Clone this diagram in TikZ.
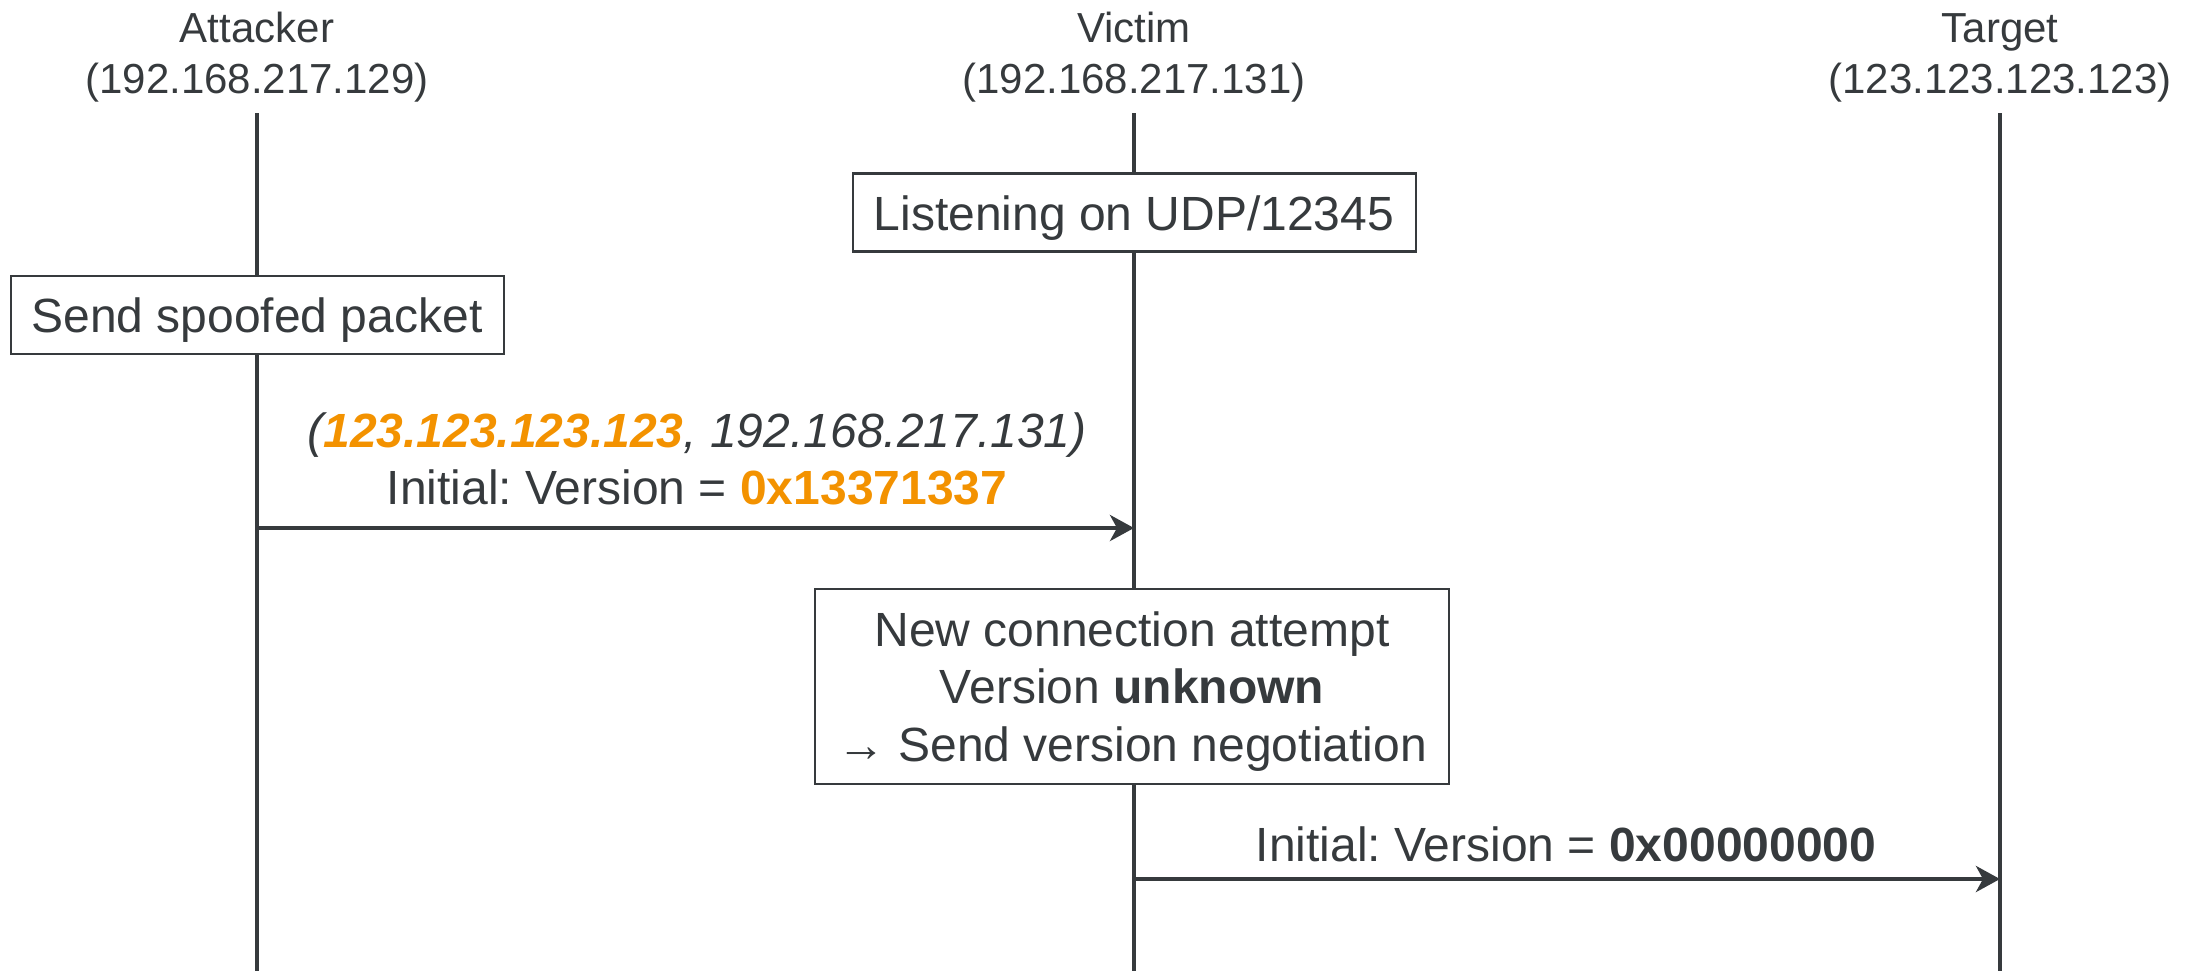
\documentclass[tikz,border=0pt]{standalone}
\usepackage{fontspec}
\setmainfont{Liberation Sans}
\usetikzlibrary{arrows.meta}
\definecolor{ink}{HTML}{363A3D}
\definecolor{hot}{HTML}{F39200}
\frenchspacing
\begin{document}
\begin{tikzpicture}[x=0.5pt,y=-0.5pt,
  every node/.style={inner sep=0pt, outer sep=0pt, text=ink},
  lifeline/.style={draw=ink, line width=2pt},
  msg/.style={draw=ink, line width=2.1pt,
    -{Stealth[length=12pt, width=13pt, inset=3.5pt]}},
  actionbox/.style={draw=ink, line width=1.35pt, fill=white, rectangle},
  head/.style={anchor=base, font=\fontsize{21pt}{25pt}\selectfont},
  txt/.style={anchor=base, font=\fontsize{24pt}{29pt}\selectfont}]
\useasboundingbox (0,0) rectangle (2192,971);

% participants
\node[head] (hA1) at (257,42) {Attacker};
\node[head] (hA2) at (257,93) {(192.168.217.129)};
\node[head] (hV1) at (1134,42) {Victim};
\node[head] (hV2) at (1134,93) {(192.168.217.131)};
\node[head] (hT1) at (2000,42) {Target};
\node[head] (hT2) at (2000,93) {(123.123.123.123)};

% lifelines
\coordinate (aTop) at (257,113);  \coordinate (aBot) at (257,971);
\coordinate (vTop) at (1134,113); \coordinate (vBot) at (1134,971);
\coordinate (tTop) at (2000,113); \coordinate (tBot) at (2000,971);
\draw[lifeline] (aTop) -- (aBot);
\draw[lifeline] (vTop) -- (vBot);
\draw[lifeline] (tTop) -- (tBot);

% action boxes on the lifelines
\node[actionbox, minimum width=281.5pt, minimum height=39pt] (listen) at (1134.5,212.5) {};
\node[txt] (listenT) at (1134,230) {Listening on UDP/12345};

\node[actionbox, minimum width=246.5pt, minimum height=39pt] (spoof) at (257.5,315) {};
\node[txt] (spoofT) at (257,332) {Send spoofed packet};

\node[actionbox, minimum width=317pt, minimum height=97.5pt] (newconn) at (1132,686.5) {};
\node[txt] (nc1) at (1132,646) {New connection attempt};
\node[txt] (nc2) at (1132,703) {Version \textbf{unknown}};
\node[txt] (nc3) at (1132,761) {→ Send version negotiation};

% messages
\coordinate (m1s) at (257,528);  \coordinate (m1e) at (1134,528);
\draw[msg] (m1s) -- (m1e);
\node[txt] (m1a) at (697,447) {\itshape (\textbf{\color{hot}123.123.123.123}, 192.168.217.131)};
\node[txt] (m1b) at (697,504) {Initial: Version = \textbf{\color{hot}0x13371337}};

\coordinate (m2s) at (1134,879); \coordinate (m2e) at (2000,879);
\draw[msg] (m2s) -- (m2e);
\node[txt] (m2a) at (1566,861) {Initial: Version = \textbf{0x00000000}};
\end{tikzpicture}
\end{document}
